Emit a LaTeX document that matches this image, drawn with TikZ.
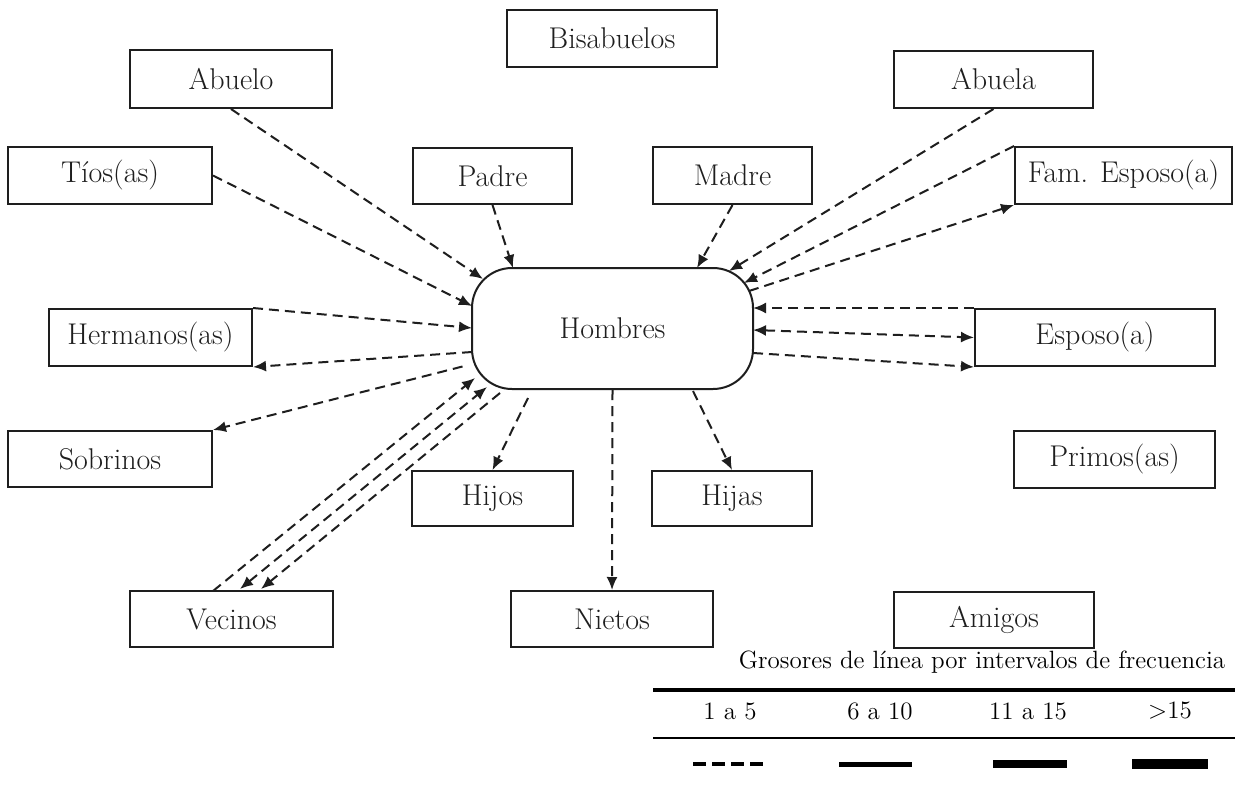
\documentclass[tikz,border=0pt]{standalone}
\usetikzlibrary{arrows.meta,calc}

\definecolor{ink}{RGB}{30,30,30}

\tikzset{
  box/.style={draw=ink, line width=1pt, rectangle, inner sep=0pt,
              font=\fontsize{15}{17}\selectfont, text=ink},
  hub/.style={box, rounded corners=20pt},
  tip/.style={Latex[length=6.5pt,width=5.5pt]},
  link/.style={draw=ink, line width=1pt, dash pattern=on 5pt off 3pt,
               -{Latex[length=6.5pt,width=5.5pt]}},
  twoway/.style={link, {Latex[length=6.5pt,width=5.5pt]}-{Latex[length=6.5pt,width=5.5pt]}},
  legtext/.style={font=\fontsize{12.5}{14}\selectfont, text=black, inner sep=0pt},
}

\begin{document}
\begin{tikzpicture}[x=0.5pt, y=-0.5pt]
  \useasboundingbox (0,0) rectangle (1235,797);
  \fill[white] (0,0) rectangle (1235,797);

  % central node
  \node[hub, minimum width=140.5pt, minimum height=60.5pt] (h) at (612.5,328.5) {Hombres};

  % relatives and others
  \node[box, minimum width=105pt,   minimum height=28.5pt] (bisa)   at (612,38.5)    {Bisabuelos};
  \node[box, minimum width=101pt,   minimum height=29pt]   (abuelo) at (231,79)      {Abuelo};
  \node[box, minimum width=99.5pt,  minimum height=28.5pt] (abuela) at (993.5,79.5)  {Abuela};
  \node[box, minimum width=102pt,   minimum height=28.5pt] (tios)   at (110,175.5)   {Tíos(as)};
  \node[box, minimum width=79.5pt,  minimum height=28pt]   (padre)  at (492.5,176)   {Padre};
  \node[box, minimum width=79.5pt,  minimum height=28.5pt] (madre)  at (732.5,175.5) {Madre};
  \node[box, minimum width=108.5pt, minimum height=28.5pt] (fam)    at (1123.5,175.5){Fam. Esposo(a)};
  \node[box, minimum width=101.5pt, minimum height=28.5pt] (herm)   at (150.5,337.5) {Hermanos(as)};
  \node[box, minimum width=120pt,   minimum height=28.5pt] (esposo) at (1095,337.5)  {Esposo(a)};
  \node[box, minimum width=102pt,   minimum height=28pt]   (sobr)   at (110,459)     {Sobrinos};
  \node[box, minimum width=100.5pt, minimum height=28.5pt] (primos) at (1114.5,459.5){Primos(as)};
  \node[box, minimum width=80.5pt,  minimum height=27.5pt] (hijos)  at (492.5,498.5) {Hijos};
  \node[box, minimum width=80pt,    minimum height=27.5pt] (hijas)  at (732,498.5)   {Hijas};
  \node[box, minimum width=101.5pt, minimum height=28pt]   (vec)    at (231.5,619)   {Vecinos};
  \node[box, minimum width=101pt,   minimum height=28pt]   (nietos) at (612,619)     {Nietos};
  \node[box, minimum width=100pt,   minimum height=28pt]   (amigos) at (994,620)     {Amigos};

  % links with the family above and beside
  \draw[link] (abuelo.south) -- ($(h)+(-129.5,-49.5)$);
  \draw[link] (tios.east) -- ($(h)+(-140.5,-22.5)$);
  \draw[link] (padre.south) -- ($(h)+(-99.5,-60.5)$);
  \draw[link] (madre.south) -- ($(h)+(84.5,-60.5)$);
  \draw[link] (abuela.south) -- ($(h)+(116.5,-57.5)$);
  \draw[link] (fam.north west) -- ($(h)+(131.5,-45.5)$);
  \draw[link] ($(h)+(136.5,-37.5)$) -- (fam.south west);
  \draw[link] (esposo.north west) -- ($(h)+(140.5,-20.5)$);
  \draw[twoway] ($(h)+(140.5,1.5)$) -- (esposo.west);
  \draw[link] ($(h)+(140.5,24.5)$) -- (esposo.south west);
  \draw[link] (herm.north east) -- ($(h)+(-140.5,-0.5)$);
  \draw[link] ($(h)+(-140.5,23.5)$) -- (herm.south east);
  \draw[link] ($(h)+(-150,38)$) -- (sobr.north east);

  % neighbours
  \draw[link] ($(vec)+(-18.5,-28)$) -- ($(h)+(-137.5,49.5)$);
  \draw[twoway] ($(vec)+(8.5,-30)$) -- ($(h)+(-125.5,58.5)$);
  \draw[link] ($(h)+(-112.5,64.5)$) -- ($(vec)+(29.5,-30)$);

  % descendants
  \draw[link] ($(h)+(-84.5,69.5)$) -- (hijos.north);
  \draw[link] (h.south) -- (nietos.north);
  \draw[link] ($(h)+(80.5,62.5)$) -- (hijas.north);

  % legend
  \node[legtext] (legtitle) at (982,662) {Grosores de línea por intervalos de frecuencia};
  \draw[line width=2pt] (653,690) -- (1235,690);
  \node[legtext] (l1) at (730,711)  {1 a 5};
  \node[legtext] (l2) at (880,711)  {6 a 10};
  \node[legtext] (l3) at (1028,711) {11 a 15};
  \node[legtext] (l4) at (1170,711) {>15};
  \draw[line width=1pt] (653,738) -- (1235,738);
  \draw[line width=2pt, dash pattern=on 6.5pt off 3pt] (693,764) -- (765,764);
  \draw[line width=2.5pt] (839,764) -- (912,764);
  \draw[line width=4pt] (993,764) -- (1067,764);
  \draw[line width=5pt] (1132,764) -- (1208,764);
\end{tikzpicture}
\end{document}
